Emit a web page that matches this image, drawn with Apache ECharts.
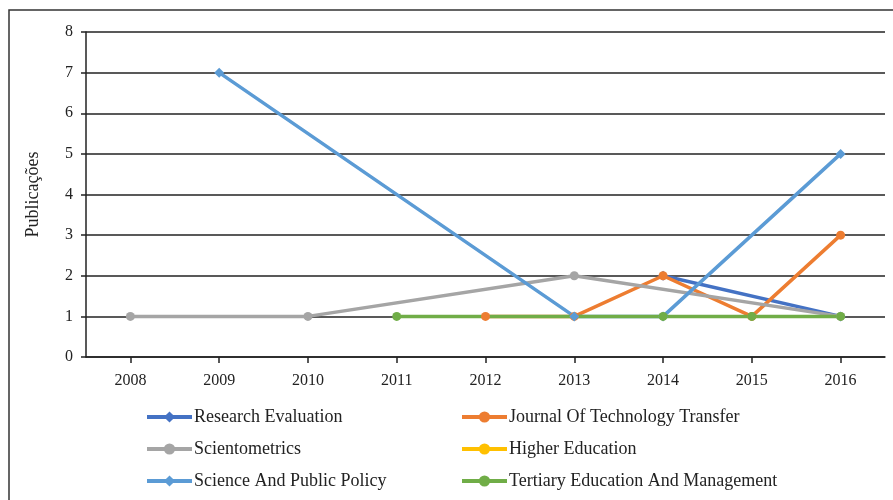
<!DOCTYPE html>
<html>
<head>
<meta charset="utf-8">
<script src="https://cdn.jsdelivr.net/npm/echarts@6/dist/echarts.min.js"></script>
<style>html,body{margin:0;padding:0;background:#fff}#c{width:893px;height:500px}</style>
</head>
<body>
<div id="c"></div>
<script>
const years = ['2008','2009','2010','2011','2012','2013','2014','2015','2016'];
const researchEvaluation = [null,null,null,null,null,null,2,null,1];
const journalTechTransfer = [null,null,null,null,1,1,2,1,3];
const scientometrics = [1,null,1,null,null,2,null,null,1];
const higherEducation = [null,null,null,null,null,null,null,null,null];
const sciencePublicPolicy = [null,7,null,null,null,1,1,null,5];
const tertiaryEducation = [null,null,null,1,null,null,1,1,1];
const yTicks = [0,1,2,3,4,5,6,7,8];

const names = ['Research Evaluation','Journal Of Technology Transfer','Scientometrics','Higher Education','Science And Public Policy','Tertiary Education And Management'];
const datas = [researchEvaluation, journalTechTransfer, scientometrics, higherEducation, sciencePublicPolicy, tertiaryEducation];
const colors = ['#4472C4','#ED7D31','#A5A5A5','#FFC000','#5B9BD5','#70AD47'];
const symbols = ['diamond','circle','circle','circle','diamond','circle'];
const font = '"Liberation Serif", "DejaVu Serif", serif';

const legendCommon = {orient:'vertical', top:408, padding:0, itemGap:14, itemWidth:45, itemHeight:14,
  lineStyle:{width:4},
  textStyle:{fontFamily:font, fontSize:18, lineHeight:18, color:'#222', padding:[0,0,0,-3]}};

const chart = echarts.init(document.getElementById('c'), null, {renderer:'canvas'});
chart.setOption({
  animation:false,
  backgroundColor:'#fff',
  graphic:[{type:'rect', shape:{x:9,y:10,width:900,height:500}, style:{fill:'none', stroke:'#333', lineWidth:1.5}, silent:true}],
  grid:{left:86, right:8, top:32, bottom:143},
  legend:[
    Object.assign({data:[names[0],names[2],names[4]], left:145}, legendCommon),
    Object.assign({data:[names[1],names[3],names[5]], left:460}, legendCommon)
  ],
  xAxis:{type:'category', data:years, boundaryGap:true,
    axisLine:{lineStyle:{color:'#222', width:1.5}},
    axisTick:{show:true, alignWithLabel:true, length:6, lineStyle:{color:'#222', width:1.5}},
    axisLabel:{fontFamily:font, fontSize:16, color:'#222', margin:16}},
  yAxis:{type:'value', min:0, max:8, interval:1,
    name:'Publicações', nameLocation:'middle', nameGap:44, nameRotate:90,
    nameTextStyle:{fontFamily:font, fontSize:18, color:'#222'},
    axisLine:{show:true, lineStyle:{color:'#222', width:1.5}},
    axisTick:{show:true, length:5, lineStyle:{color:'#222', width:1.5}},
    axisLabel:{fontFamily:font, fontSize:16, color:'#222', margin:13,
      formatter:function(v){return yTicks.indexOf(v)>=0 ? String(v) : '';}},
    splitLine:{show:true, lineStyle:{color:'#222', width:1.5}}},
  series: names.map((n,i)=>({
    name:n, type:'line', data:datas[i], connectNulls:true,
    symbol:symbols[i], symbolSize: symbols[i]==='diamond'?10:9, showAllSymbol:true,
    itemStyle:{color:colors[i]},
    lineStyle:{color:colors[i], width:3.5}
  }))
});
</script>
</body>
</html>
